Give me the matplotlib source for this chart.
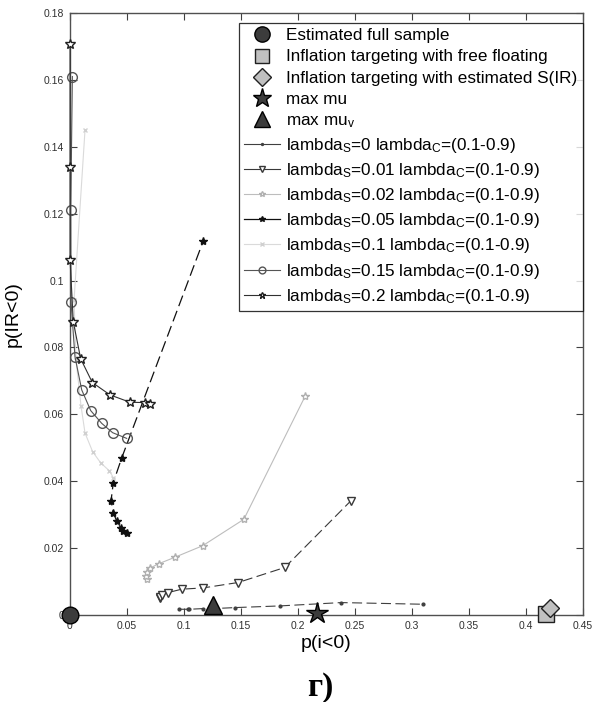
#!/usr/bin/env python3
"""
Trade-off chart: p(i<0) vs p(IR<0) for several lambda_S settings
"""

import matplotlib
matplotlib.use("Agg")
import matplotlib.pyplot as plt
from matplotlib.lines import Line2D

plt.rcParams['font.family'] = ['Liberation Sans', 'DejaVu Sans']
plt.rcParams['mathtext.fontset'] = 'custom'
plt.rcParams['mathtext.rm'] = 'Liberation Sans'
plt.rcParams['mathtext.it'] = 'Liberation Sans:italic'

# --- data ---
x_ls0 = [0.0958, 0.1037, 0.1050, 0.1168, 0.1260, 0.1448, 0.1842, 0.2380, 0.3100]
y_ls0 = [0.0017, 0.0017, 0.0017, 0.0019, 0.0019, 0.0022, 0.0027, 0.0037, 0.0032]

x_ls001 = [0.0790, 0.0792, 0.0806, 0.0864, 0.0982, 0.1173, 0.1477, 0.1886, 0.2464]
y_ls001 = [0.0050, 0.0054, 0.0060, 0.0067, 0.0077, 0.0081, 0.0097, 0.0142, 0.0341]

x_ls002 = [0.0680, 0.0669, 0.0680, 0.0704, 0.0780, 0.0926, 0.1166, 0.1527, 0.2067]
y_ls002 = [0.0107, 0.0117, 0.0127, 0.0140, 0.0153, 0.0173, 0.0207, 0.0286, 0.0656]

x_ls005 = [0.0500, 0.0472, 0.0450, 0.0412, 0.0383, 0.0363, 0.0383, 0.0456, 0.1171]
y_ls005 = [0.0244, 0.0251, 0.0259, 0.0281, 0.0306, 0.0341, 0.0396, 0.0469, 0.1118]

x_ls01 = [0.0135, 0.0039, 0.0056, 0.0100, 0.0135, 0.0202, 0.0272, 0.0348, 0.0384]
y_ls01 = [0.1450, 0.0942, 0.0763, 0.0625, 0.0544, 0.0488, 0.0455, 0.0431, 0.0410]

x_ls015 = [0.0024, 0.0010, 0.0012, 0.0047, 0.0106, 0.0185, 0.0281, 0.0377, 0.0500]
y_ls015 = [0.1610, 0.1210, 0.0937, 0.0772, 0.0673, 0.0611, 0.0573, 0.0545, 0.0528]

x_ls02 = [0.0004, 0.0004, 0.0004, 0.0032, 0.0097, 0.0199, 0.0354, 0.0529, 0.0660, 0.0704]
y_ls02 = [0.1707, 0.1340, 0.1062, 0.0877, 0.0766, 0.0695, 0.0658, 0.0636, 0.0635, 0.0631]

# single reference points
full_sample = (0.0, 0.0)
it_free_float = (0.4177, 0.0003)
it_estimated = (0.4210, 0.0020)
max_mu = (0.2165, 0.0005)
max_mu_v = (0.1260, 0.0030)

x_ticks = [0, 0.05, 0.1, 0.15, 0.2, 0.25, 0.3, 0.35, 0.4, 0.45]
x_tick_labels = ['0', '0.05', '0.1', '0.15', '0.2', '0.25', '0.3', '0.35', '0.4', '0.45']
y_ticks = [0, 0.02, 0.04, 0.06, 0.08, 0.1, 0.12, 0.14, 0.16, 0.18]
y_tick_labels = ['0', '0.02', '0.04', '0.06', '0.08', '0.1', '0.12', '0.14', '0.16', '0.18']

series_labels = [
    r'lambda$_\mathrm{S}$=0 lambda$_\mathrm{C}$=(0.1-0.9)',
    r'lambda$_\mathrm{S}$=0.01 lambda$_\mathrm{C}$=(0.1-0.9)',
    r'lambda$_\mathrm{S}$=0.02 lambda$_\mathrm{C}$=(0.1-0.9)',
    r'lambda$_\mathrm{S}$=0.05 lambda$_\mathrm{C}$=(0.1-0.9)',
    r'lambda$_\mathrm{S}$=0.1 lambda$_\mathrm{C}$=(0.1-0.9)',
    r'lambda$_\mathrm{S}$=0.15 lambda$_\mathrm{C}$=(0.1-0.9)',
    r'lambda$_\mathrm{S}$=0.2 lambda$_\mathrm{C}$=(0.1-0.9)',
]

fig = plt.figure(figsize=(6.08, 7.02), dpi=100)
ax = fig.add_axes([0.1145, 0.124, 0.8445, 0.8575])

dash = (0, (9, 4))
styles = [
    dict(color='#404040', marker='.', ms=4, mfc='#404040', mec='#404040', ls=dash, lw=0.8),
    dict(color='#383838', marker='v', ms=6, mfc='white', mec='#383838', ls=dash, lw=0.8),
    dict(color='#bdbdbd', marker='*', ms=6, mfc='white', mec='#b0b0b0', ls='-', lw=0.8),
    dict(color='#101010', marker='*', ms=6, mfc='#101010', mec='#101010', ls=dash, lw=0.9),
    dict(color='#dadada', marker='x', ms=3.5, mfc='#d0d0d0', mec='#d0d0d0', ls='-', lw=0.8),
    dict(color='#555555', marker='o', ms=7, mfc='none', mec='#555555', ls='-', lw=0.8),
    dict(color='#303030', marker='*', ms=7, mfc='white', mec='#202020', ls='-', lw=0.8),
]
series = [(x_ls0, y_ls0), (x_ls001, y_ls001), (x_ls002, y_ls002), (x_ls005, y_ls005),
          (x_ls01, y_ls01), (x_ls015, y_ls015), (x_ls02, y_ls02)]

for (xs, ys), st in zip(series, styles):
    ax.plot(xs, ys, clip_on=False, zorder=3, **st)

ax.plot(*full_sample, marker='o', ms=12, color='#3c3c3c', mec='black', ls='none', clip_on=False, zorder=6)
ax.plot(*it_free_float, marker='s', ms=11, color='#c0c0c0', mec='#202020', ls='none', clip_on=False, zorder=6)
ax.plot(*it_estimated, marker='D', ms=9, color='#c0c0c0', mec='#202020', ls='none', clip_on=False, zorder=7)
ax.plot(*max_mu, marker='*', ms=16, color='#3c3c3c', mec='black', ls='none', clip_on=False, zorder=6)
ax.plot(*max_mu_v, marker='^', ms=13, color='#3c3c3c', mec='black', ls='none', clip_on=False, zorder=6)

ax.set_xlim(0, 0.45)
ax.set_ylim(0, 0.18)
ax.set_xticks(x_ticks)
ax.set_xticklabels(x_tick_labels)
ax.set_yticks(y_ticks)
ax.set_yticklabels(y_tick_labels)
ax.tick_params(direction='in', length=5, width=0.8, top=True, right=True,
               labelsize=7.5, labelcolor='#303030', color='#404040', pad=4)
for sp in ax.spines.values():
    sp.set_color('#505050')
    sp.set_linewidth(1.0)

ax.set_xlabel('p(i<0)', fontsize=14, labelpad=3)
ax.set_ylabel('p(IR<0)', fontsize=14, labelpad=16)

# legend with solid sample lines
handles = [
    Line2D([], [], marker='o', ms=11, color='#3c3c3c', mec='black', ls='none'),
    Line2D([], [], marker='s', ms=10, color='#c0c0c0', mec='#202020', ls='none'),
    Line2D([], [], marker='D', ms=9, color='#c0c0c0', mec='#202020', ls='none'),
    Line2D([], [], marker='*', ms=14, color='#3c3c3c', mec='black', ls='none'),
    Line2D([], [], marker='^', ms=11, color='#3c3c3c', mec='black', ls='none'),
]
for st in styles:
    s = dict(st)
    s['ls'] = '-'
    s['ms'] = s['ms'] * 0.7
    handles.append(Line2D([], [], **s))
labels = ['Estimated full sample', 'Inflation targeting with free floating',
          'Inflation targeting with estimated S(IR)', 'max mu', r'max mu$_\mathrm{v}$'] + series_labels

leg = ax.legend(handles, labels, loc='upper right', bbox_to_anchor=(0.999, 0.983),
                fontsize=12.3, frameon=True, fancybox=False, edgecolor='black',
                borderpad=0.3, labelspacing=0.36, handlelength=2.1, handletextpad=0.35,
                borderaxespad=0, numpoints=1)
leg.get_frame().set_linewidth(0.9)
leg.set_zorder(10)

fig.text(0.527, 0.02, 'г)', fontsize=24, fontweight='bold', family='Liberation Serif',
         ha='center', va='center')

fig.savefig('out.png', dpi=100)
